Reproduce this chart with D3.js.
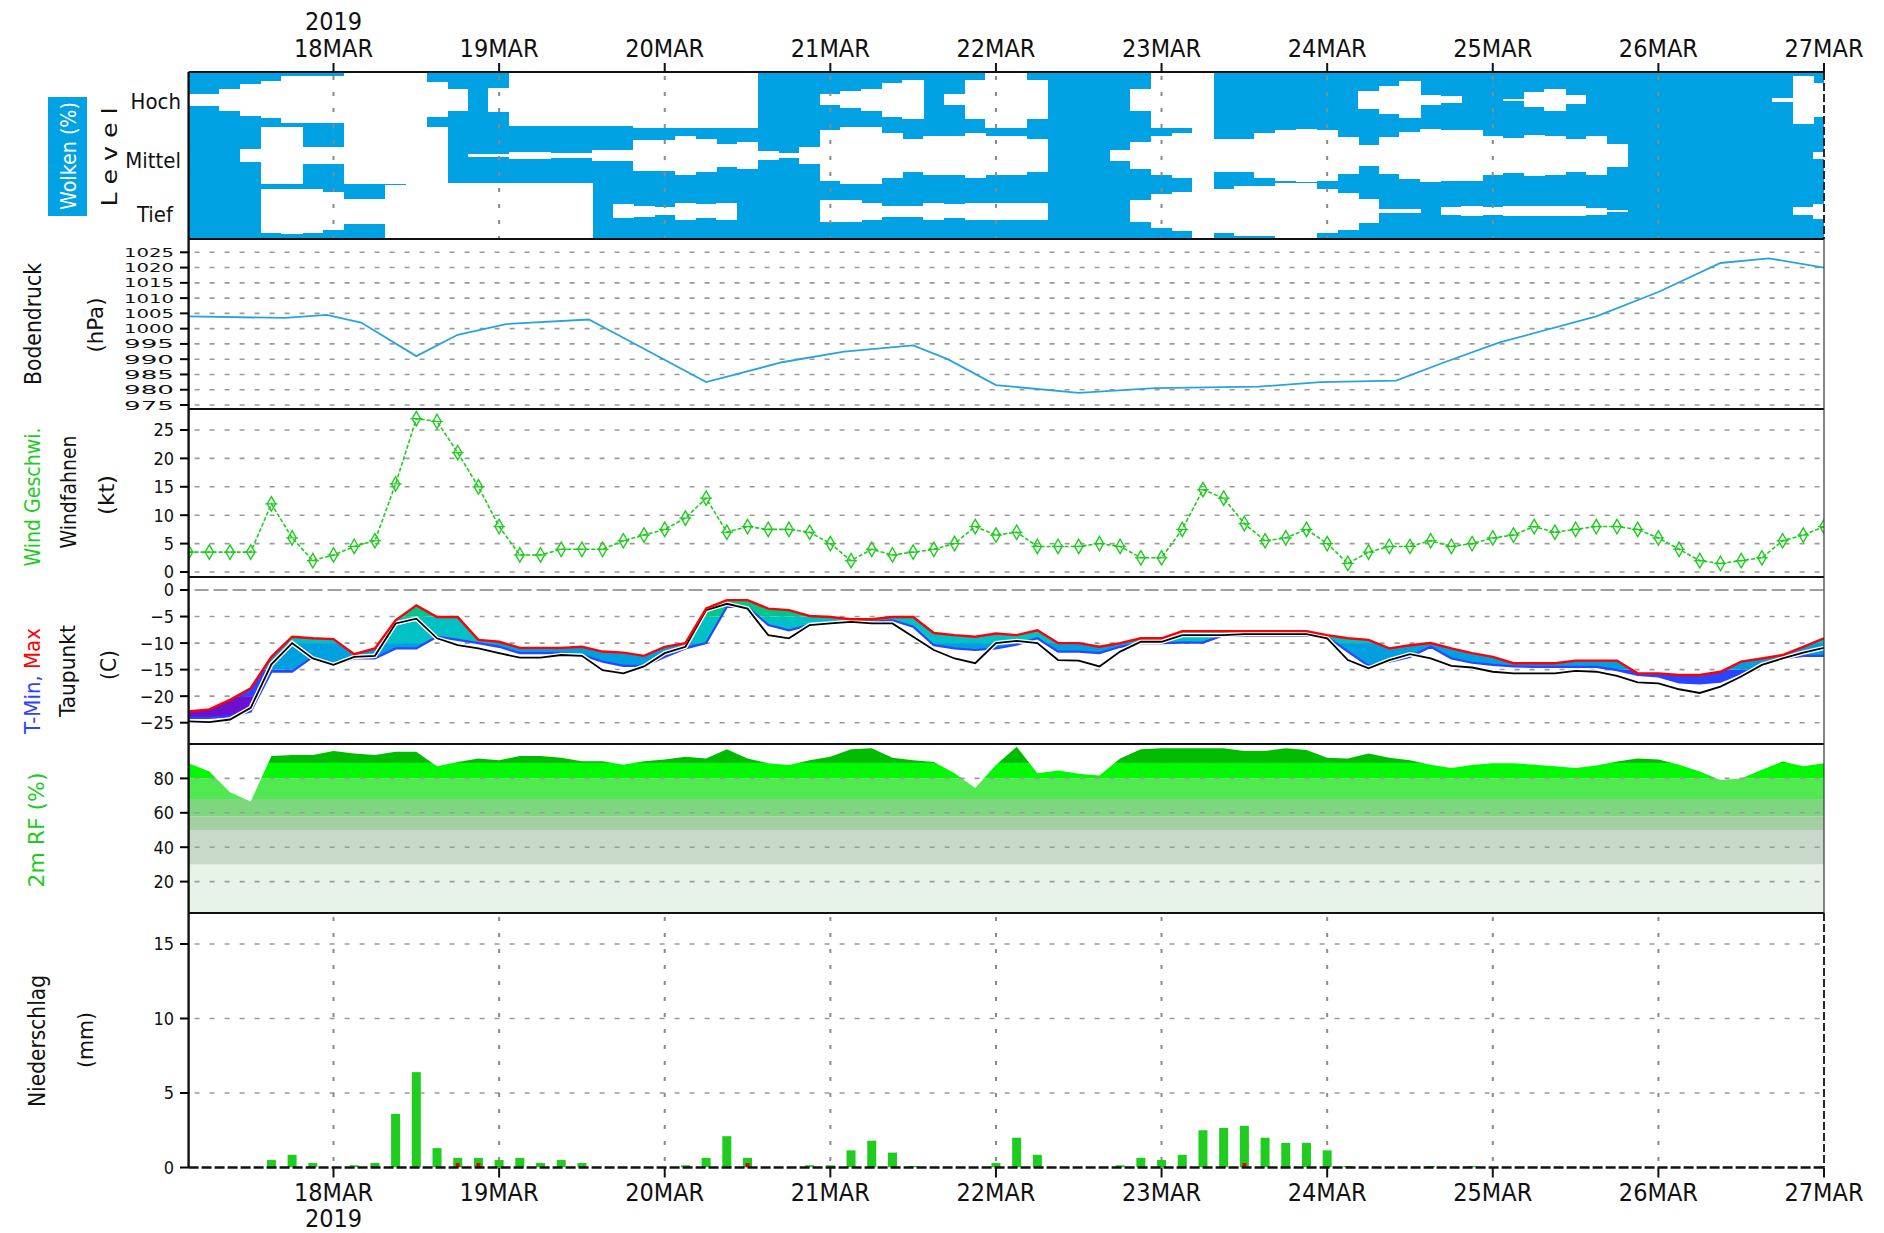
<!DOCTYPE html>
<html><head><meta charset="utf-8">
<script src="https://cdn.jsdelivr.net/npm/d3@7"></script>
<style>
html,body{margin:0;padding:0;background:#fff;}
svg{display:block;}
text{font-family:"DejaVu Sans Condensed","DejaVu Sans",sans-serif;font-stretch:condensed;}
</style></head><body>
<svg id="chart" width="1884" height="1233"></svg>
<script>
// ---------- DATA ----------
const START = Date.UTC(2019, 2, 17, 3);   // first model step
const END = Date.UTC(2019, 2, 27, 0);
const STEP_H = 3;
const dayLabels = ["18MAR","19MAR","20MAR","21MAR","22MAR","23MAR","24MAR","25MAR","26MAR","27MAR"];
const yearLabel = "2019";

// cloud cover (%) per level, 3-hourly
const cloudHigh = [79,79,61,43,34,16,16,16,0,0, 0,0,37,61,100,58,5,5,5,5, 5,5,0,0,0,0,0,0,100,100,
  100,80,70,60,40,30,100,80,30,0, 0,30,100,100,100,100,60,0,0,0, 100,100,100,100,100,100,100,67,49,34,
  82,88,100,100,96,73,61,84,100,100, 100,100,100,100,100,100,100,93,13,40];
const cloudMid = [100,100,100,76,0,0,70,70,0,0, 0,0,0,100,94,94,88,88,90,90, 79,79,46,46,30,40,60,50,85,90,
  70,10,0,0,20,40,30,30,20,30, 30,40,100,100,100,80,50,30,20,0, 40,40,20,10,5,8,35,61,34,16,
  4,7,10,31,37,28,31,40,30,58, 100,100,100,100,100,100,100,100,100,88];
const cloudLow = [100,100,100,100,22,19,20,31,55,55, 5,0,0,0,0,0,0,0,0,0, 100,75,80,85,70,75,70,100,100,100,
  100,60,60,70,80,80,70,75,70,70, 70,70,100,100,100,100,60,40,30,0, 20,10,10,0,0,20,34,58,94,94,
  100,86,83,85,83,83,83,83,88,96, 100,100,100,100,100,100,100,100,85,73];

// surface pressure (hPa) at hours after start
const pressureHours = [0,14,20,25,33,39,46,58,63,75,86,95,105,110,117,129,140,155,164,175,182,190,204,213,222,229,237];
const pressureHpa = [1004,1003.5,1004.5,1002,991,998,1001.5,1003,997,982.5,989,992.5,994.5,990,981.5,979,980.5,981,982.5,983,989,995.5,1004,1012,1021.5,1023,1020];

// wind speed (kt)
const windKt = [3.5,3.5,3.5,3.5,12,6,2,3,4.5,5.5, 15.5,27,26.5,21,15,8,3,3,4,4,
  4,5.5,6.5,7.5,9.5,13,7,8,7.5,7.5, 7,5,2,4,3,3.5,4,5,8,6.5,
  7,4.5,4.5,4.5,5,4.5,2.5,2.5,7.5,14.5, 13,8.5,5.5,6,7.5,5,1.5,3.5,4.5,4.5,
  5.5,4.5,5,6,6.5,8,7,7.5,8,8, 7.5,6,4,2,1.5,2,2.5,5.5,6.5,8];

// temperatures (C)
const tMax = [-22.9,-22.5,-20.7,-18.5,-12.6,-8.8,-9.1,-9.25,-12.1,-11, -5.7,-2.9,-5.1,-5.1,-9.4,-9.75,-10.9,-10.9,-10.9,-10.7,
  -11.6,-11.8,-12.4,-10.7,-10,-3.5,-1.9,-1.9,-3.5,-3.8, -4.9,-5.1,-5.5,-5.5,-5.1,-5.1,-8.1,-8.5,-8.8,-8.2,
  -8.5,-7.6,-10,-10,-10.7,-10,-9.1,-9.1,-7.75,-7.75, -7.75,-7.75,-7.75,-7.75,-7.75,-8.5,-9.1,-9.4,-11,-10.4,
  -10,-11,-11.9,-12.6,-13.8,-13.8,-13.8,-13.3,-13.3,-13.3, -15.7,-15.7,-16,-16,-15.4,-13.5,-12.9,-12.25,-10.7,-9.1];
const tMin = [-24.1,-24.1,-23.8,-22.9,-15.4,-15.4,-12.6,-14.1,-12.9,-12.9, -11,-11,-8.8,-9.4,-10,-10.7,-11.9,-11.9,-11.9,-12.25,
  -13.5,-14.3,-14.3,-12.6,-11,-10,-3.2,-3.2,-6.6,-7.6, -6.6,-6.3,-6,-6,-5.7,-6.9,-10.4,-11,-11.3,-11,
  -10.3,-9.1,-11.6,-11.6,-11.9,-10.7,-10,-10,-9.9,-9.9, -8.5,-8.6,-8.6,-8.6,-8.6,-8.8,-11.6,-14.3,-13.5,-12.6,
  -10.7,-12.9,-13.7,-14.1,-14.4,-14.5,-14.5,-14.5,-14.5,-15.1, -16,-16.3,-17.4,-17.6,-17.25,-15.7,-14.1,-12.9,-12.4,-12.4];
const dewPoint = [-24.75,-24.9,-24.4,-22.2,-14,-10,-12.9,-14.1,-12.6,-12.4, -6.3,-5.4,-9.1,-10.4,-11,-11.9,-12.75,-12.75,-12.25,-12.4,
  -15.1,-15.7,-14.4,-11.9,-10.7,-3.8,-2.6,-3.5,-8.5,-9.1, -6.6,-6.3,-6,-6.3,-6.3,-8.8,-11.3,-12.9,-13.8,-10,
  -9.6,-10,-13.2,-13.3,-14.4,-11.6,-9.75,-9.75,-8.5,-8.5, -8.5,-8.3,-8.3,-8.3,-8.3,-9.1,-13.2,-14.75,-13.2,-12.1,
  -12.9,-14.3,-14.6,-15.4,-15.7,-15.7,-15.7,-15.25,-15.4,-16.2, -17.4,-17.6,-18.7,-19.4,-18.2,-16.3,-14.1,-12.9,-11.8,-10.9];

// 2m relative humidity (%)
const rhPct = [88.8,84,72,66.5,93,93.6,93.6,96,94.5,93.6, 95.5,95.5,87,89.5,91.6,90.5,93,93,92,90,
  90,88,90,91,92.6,91.6,96.9,91.6,88.8,87.8, 90.5,92.6,96.9,97.5,92,90.5,89.5,83,74.4,87.8,
  98.4,83,84.6,82.7,81.7,91.6,97,97.5,97.5,97.5, 97.5,96,96,97.5,96.5,92,91.6,94.5,92,90.5,
  88,86,87.8,88.8,88.8,88,87,86,87.5,89.8, 91.6,91,88,84,79,80,85,89.8,87,88.8];

// precipitation (mm / 3h) and the red (frozen/mixed) part
const precipMm = [0,0,0,0,0.5,0.85,0.3,0,0.15,0.3, 3.6,6.4,1.3,0.65,0.65,0.5,0.65,0.3,0.5,0.3,
  0,0,0,0,0.15,0.65,2.1,0.65,0,0, 0.15,0.15,1.15,1.8,1.0,0.1,0,0,0,0.3,
  2.0,0.85,0,0,0,0.15,0.65,0.5,0.85,2.5, 2.65,2.8,2.0,1.65,1.65,1.15,0.1,0,0,0,
  0.1,0,0.1,0,0,0,0,0,0,0, 0,0,0,0,0,0,0,0,0,0.1];
const precipRed = [0,0,0,0,0,0,0,0,0,0, 0,0,0,0.3,0.3,0,0,0,0,0,
  0,0,0,0,0,0,0,0.3,0,0, 0,0,0,0,0,0,0,0,0,0,
  0,0,0,0,0,0,0,0,0,0, 0,0.3,0,0,0,0,0,0,0,0,
  0,0,0,0,0,0,0,0,0,0, 0,0,0,0,0,0,0,0,0,0];

// axis ticks
const pressureTicks = [975,980,985,990,995,1000,1005,1010,1015,1020,1025];
const windTicks = [0,5,10,15,20,25];
const tempTicks = [0,-5,-10,-15,-20,-25];
const rhTicks = [20,40,60,80];
const precipTicks = [0,5,10,15];

// ---------- LAYOUT ----------
const L = 188.6, R = 1824;
const P = {cloud:[72,239], pres:[239,409], wind:[409,577], temp:[577,744], rh:[744,913], prec:[913,1167.5]};
const HOUR = 3600e3;
const tAt = i => new Date(START + i * STEP_H * HOUR);
const dayDate = k => new Date(Date.UTC(2019, 2, 18 + k));
const x = d3.scaleUtc().domain([new Date(START), new Date(END)]).range([L, R]);

const yP = d3.scaleLinear().domain([975, 1025]).range([405, 252.3]);
const yW = d3.scaleLinear().domain([0, 25]).range([572, 430]);
const yT = d3.scaleLinear().domain([-25, 0]).range([722.7, 590]);
const yH = d3.scaleLinear().domain([0, 100]).range([916, 744]);
const yR = d3.scaleLinear().domain([0, 15]).range([1167.5, 944]);

const svg = d3.select("#chart");
const defs = svg.append("defs");
function panelClip(id, p) {
  defs.append("clipPath").attr("id", id).append("rect")
    .attr("x", L).attr("y", p[0]).attr("width", R - L).attr("height", p[1] - p[0]);
}
Object.entries(P).forEach(([k, p]) => panelClip("clip-" + k, p));

const GRID = "#9a9a9a";
function hgrid(g, scale, vals, dash = "5,10", color = GRID, w = 1.6) {
  g.selectAll(null).data(vals).join("line")
    .attr("x1", L + 6).attr("x2", R).attr("y1", d => scale(d)).attr("y2", d => scale(d))
    .attr("stroke", color).attr("stroke-width", w).attr("stroke-dasharray", dash);
}
function vgrid(g, p, color = "#8a8a8a") {
  g.selectAll(null).data(dayLabels.slice(0, 9)).join("line")
    .attr("x1", (d, k) => x(dayDate(k))).attr("x2", (d, k) => x(dayDate(k)))
    .attr("y1", p[0] + 4).attr("y2", p[1])
    .attr("stroke", color).attr("stroke-width", 2).attr("stroke-dasharray", "4,12");
}
function yLabels(scale, vals, fmt = d => d, size = 18, len = null) {
  const g = svg.append("g");
  g.selectAll(null).data(vals).join("line")
    .attr("x1", 180).attr("x2", L).attr("y1", d => scale(d)).attr("y2", d => scale(d))
    .attr("stroke", "#000").attr("stroke-width", 2);
  const t = g.selectAll(null).data(vals).join("text")
    .attr("x", 174).attr("y", d => scale(d)).attr("dy", "0.36em")
    .attr("text-anchor", "end").attr("font-size", size).attr("fill", "#111")
    .text(fmt);
  if (len) t.attr("textLength", len).attr("lengthAdjust", "spacingAndGlyphs");
}
function vlabel(txt, cx, cy, size, color, len) {
  const t = svg.append("text")
    .attr("transform", `translate(${cx},${cy}) rotate(-90)`)
    .attr("text-anchor", "middle").attr("dy", "0.35em")
    .attr("font-size", size).attr("fill", color).text(txt);
  if (len) t.attr("textLength", len).attr("lengthAdjust", "spacingAndGlyphs");
  return t;
}

// ---------- CLOUDS ----------
const gC = svg.append("g").attr("clip-path", "url(#clip-cloud)");
gC.append("rect").attr("x", L).attr("y", P.cloud[0]).attr("width", R - L)
  .attr("height", P.cloud[1] - P.cloud[0]).attr("fill", "#00a2e3");
const third = (P.cloud[1] - P.cloud[0]) / 3;
[cloudHigh, cloudMid, cloudLow].forEach((arr, lev) => {
  const cy = P.cloud[0] + third * (lev + 0.5);
  gC.selectAll(null).data(arr).join("rect")
    .attr("x", (d, i) => x(new Date(tAt(i) - 1.5 * HOUR)) - 0.3)
    .attr("width", (d, i) => x(new Date(+tAt(i) + 1.5 * HOUR)) - x(new Date(tAt(i) - 1.5 * HOUR)) + 0.6)
    .attr("y", d => cy - (1 - d / 100) * third / 2 - (d === 0 ? 0.5 : 0))
    .attr("height", d => (1 - d / 100) * third + (d === 0 ? 1 : 0))
    .attr("fill", "#fff").attr("shape-rendering", "crispEdges");
});
vgrid(gC, P.cloud);

// ---------- PRESSURE ----------
const gP = svg.append("g").attr("clip-path", "url(#clip-pres)");
hgrid(gP, yP, pressureTicks);
gP.append("path")
  .datum(pressureHours.map((h, i) => [h, pressureHpa[i]]))
  .attr("d", d3.line().x(d => x(new Date(START + d[0] * HOUR))).y(d => yP(d[1])))
  .attr("fill", "none").attr("stroke", "#29a3e0").attr("stroke-width", 1.8);

// ---------- WIND ----------
const gW = svg.append("g").attr("clip-path", "url(#clip-wind)");
hgrid(gW, yW, windTicks);
gW.append("path").datum(windKt)
  .attr("d", d3.line().x((d, i) => x(tAt(i))).y(d => yW(d)))
  .attr("fill", "none").attr("stroke", "#1ecc1e").attr("stroke-width", 1.6).attr("stroke-dasharray", "4,2");
const mk = gW.selectAll(null).data(windKt).join("g")
  .attr("transform", (d, i) => `translate(${x(tAt(i))},${yW(d)})`);
mk.append("path").attr("d", d3.symbol(d3.symbolDiamond, 60))
  .attr("fill", "none").attr("stroke", "#1ecc1e").attr("stroke-width", 1.4);
mk.append("line").attr("x1", -6).attr("x2", 6).attr("y1", 0).attr("y2", 0)
  .attr("stroke", "#1ecc1e").attr("stroke-width", 1.2);

// ---------- TEMPERATURE ----------
const gT = svg.append("g").attr("clip-path", "url(#clip-temp)");
hgrid(gT, yT, tempTicks.filter(v => v !== 0));
gT.append("line").attr("x1", L + 6).attr("x2", R).attr("y1", yT(0)).attr("y2", yT(0))
  .attr("stroke", "#a0a0a0").attr("stroke-width", 2.2).attr("stroke-dasharray", "14,5");
defs.append("clipPath").attr("id", "tband").append("path")
  .attr("d", d3.area().x((d, i) => x(tAt(i))).y0((d, i) => yT(tMin[i])).y1(d => yT(d))(tMax));
const tBands = [[-40, -20, "#6a10d0"], [-20, -15, "#2a44ff"], [-15, -10, "#00a0e0"], [-10, -5, "#00c2c6"], [-5, 5, "#00c68a"]];
const gTB = gT.append("g").attr("clip-path", "url(#tband)");
gTB.selectAll(null).data(tBands).join("rect")
  .attr("x", L).attr("width", R - L)
  .attr("y", d => yT(d[1])).attr("height", d => yT(d[0]) - yT(d[1])).attr("fill", d => d[2]);
gT.append("path").datum(tMin)
  .attr("d", d3.line().x((d, i) => x(tAt(i))).y(d => yT(d)))
  .attr("fill", "none").attr("stroke", "#2a44ff").attr("stroke-width", 2.2);
gT.append("path").datum(dewPoint)
  .attr("d", d3.line().x((d, i) => x(tAt(i))).y(d => yT(d)))
  .attr("fill", "none").attr("stroke", "#fff").attr("stroke-width", 4.5);
gT.append("path").datum(dewPoint)
  .attr("d", d3.line().x((d, i) => x(tAt(i))).y(d => yT(d)))
  .attr("fill", "none").attr("stroke", "#000").attr("stroke-width", 1.8);
gT.append("path").datum(tMax)
  .attr("d", d3.line().x((d, i) => x(tAt(i))).y(d => yT(d)))
  .attr("fill", "none").attr("stroke", "#ff0000").attr("stroke-width", 2.4);

// ---------- RELATIVE HUMIDITY ----------
const gH = svg.append("g").attr("clip-path", "url(#clip-rh)");
defs.append("clipPath").attr("id", "rharea").append("path")
  .attr("d", d3.area().x((d, i) => x(tAt(i))).y0(yH(0)).y1(d => yH(d))(rhPct));
const rhBands = [[0, 30, "#e8f3e8"], [30, 50, "#c9d9c9"], [50, 58, "#a3cfa3"], [58, 68, "#7ed77e"], [68, 80, "#52e852"], [80, 89, "#00f800"], [89, 101, "#00bb00"]];
gH.append("g").attr("clip-path", "url(#rharea)").selectAll(null).data(rhBands).join("rect")
  .attr("x", L).attr("width", R - L)
  .attr("y", d => yH(d[1])).attr("height", d => yH(d[0]) - yH(d[1])).attr("fill", d => d[2]);
hgrid(gH, yH, rhTicks);

// ---------- PRECIPITATION ----------
const gR = svg.append("g").attr("clip-path", "url(#clip-prec)");
hgrid(gR, yR, precipTicks.filter(v => v !== 0));
vgrid(gR, P.prec);
const bw = 9;
gR.selectAll(null).data(precipMm).join("rect")
  .attr("x", (d, i) => x(tAt(i)) - bw / 2).attr("width", bw)
  .attr("y", d => yR(d)).attr("height", d => yR(0) - yR(d))
  .attr("fill", "#20cc20");
gR.selectAll(null).data(precipRed).join("rect")
  .attr("x", (d, i) => x(tAt(i)) - 2).attr("width", 4)
  .attr("y", d => yR(d)).attr("height", d => yR(0) - yR(d))
  .attr("fill", "#e00000");

// ---------- FRAMES & AXES ----------
const frame = svg.append("g");
[72, 239, 409, 577, 744, 913].forEach(yv => {
  frame.append("line").attr("x1", L).attr("x2", R).attr("y1", yv).attr("y2", yv)
    .attr("stroke", "#111").attr("stroke-width", 2.2);
});
frame.append("line").attr("x1", L).attr("x2", L).attr("y1", 72).attr("y2", P.prec[1])
  .attr("stroke", "#111").attr("stroke-width", 2.4);
frame.append("line").attr("x1", R).attr("x2", R).attr("y1", P.pres[0]).attr("y2", P.rh[1])
  .attr("stroke", "#333").attr("stroke-width", 1.2);
[[P.cloud[0], P.cloud[1]], [P.prec[0], P.prec[1]]].forEach(p => {
  frame.append("line").attr("x1", R).attr("x2", R).attr("y1", p[0]).attr("y2", p[1])
    .attr("stroke", "#111").attr("stroke-width", 1.8).attr("stroke-dasharray", "8,3");
});
// precip zero line (dashed)
frame.append("line").attr("x1", L).attr("x2", R).attr("y1", yR(0)).attr("y2", yR(0))
  .attr("stroke", "#111").attr("stroke-width", 2.4).attr("stroke-dasharray", "10,3");

// top & bottom time axes
const fontDay = 25;
const ticksG = svg.append("g");
dayLabels.forEach((lab, k) => {
  const xv = x(dayDate(k));
  ticksG.append("line").attr("x1", xv).attr("x2", xv).attr("y1", 63).attr("y2", 72).attr("stroke", "#111").attr("stroke-width", 2);
  ticksG.append("line").attr("x1", xv).attr("x2", xv).attr("y1", yR(0)).attr("y2", yR(0) + 10).attr("stroke", "#111").attr("stroke-width", 2);
  ticksG.append("text").attr("x", xv).attr("y", 57).attr("text-anchor", "middle")
    .attr("font-size", fontDay).attr("fill", "#111").text(lab);
  ticksG.append("text").attr("x", xv).attr("y", 1201).attr("text-anchor", "middle")
    .attr("font-size", fontDay).attr("fill", "#111").text(lab);
});
ticksG.append("text").attr("x", x(dayDate(0))).attr("y", 30).attr("text-anchor", "middle")
  .attr("font-size", fontDay).attr("fill", "#111").text(yearLabel);
ticksG.append("text").attr("x", x(dayDate(0))).attr("y", 1227).attr("text-anchor", "middle")
  .attr("font-size", fontDay).attr("fill", "#111").text(yearLabel);

// y axes
yLabels(yP, pressureTicks, d => d, 12.5, 50);
yLabels(yW, windTicks);
yLabels(yT, tempTicks, d => d === 0 ? "0" : "\u2212" + Math.abs(d));
yLabels(yH, rhTicks);
yLabels(yR, precipTicks);

// ---------- LEFT LABELS ----------
svg.append("rect").attr("x", 48).attr("y", 97).attr("width", 39).attr("height", 119).attr("fill", "#00a2e3");
vlabel("Wolken (%)", 68, 156, 22, "#fff", 108);
vlabel("L e v e l", 110, 157, 21, "#111", 99);
[["Hoch", 101, 181], ["Mittel", 160, 181], ["Tief", 214, 173]].forEach(([s, yv, xv]) => {
  svg.append("text").attr("x", xv).attr("y", yv).attr("dy", "0.36em").attr("text-anchor", "end")
    .attr("font-size", 22).attr("fill", "#111").text(s);
});
vlabel("Bodendruck", 33, 324, 23, "#111", 122);
vlabel("(hPa)", 95, 325, 22, "#111", 55);
vlabel("Wind Geschwi.", 32, 497, 22, "#1ecc1e", 139);
vlabel("Windfahnen", 68, 492, 22, "#111", 113);
vlabel("(kt)", 106, 495, 22, "#111", 40);
const tl = svg.append("text").attr("transform", "translate(32,681) rotate(-90)")
  .attr("text-anchor", "middle").attr("dy", "0.35em").attr("font-size", 22);
tl.append("tspan").attr("fill", "#2a44ff").text("T-Min, ");
tl.append("tspan").attr("fill", "#ff0000").text("Max");
vlabel("Taupunkt", 67, 671, 22, "#111", 92);
vlabel("(C)", 108, 665, 22, "#111", 30);
vlabel("2m RF (%)", 36, 830, 22, "#1ecc1e", 115);
vlabel("Niederschlag", 37, 1041, 23, "#111", 132);
vlabel("(mm)", 85, 1040, 22, "#111", 56);
</script></body></html>
